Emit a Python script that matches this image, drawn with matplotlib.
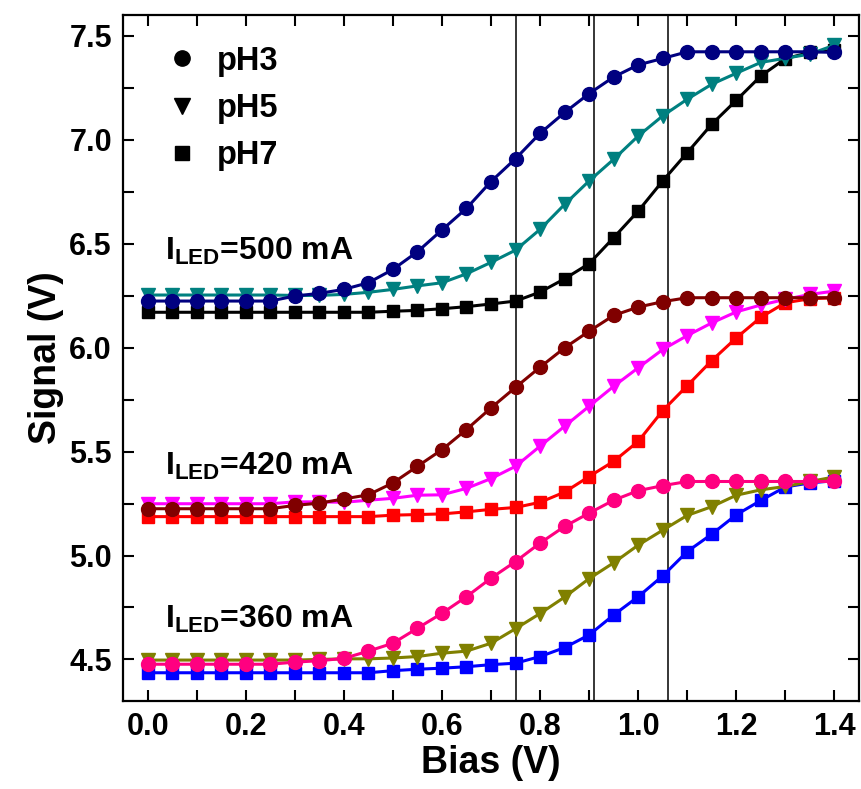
import matplotlib
matplotlib.use("Agg")
import matplotlib.pyplot as plt
from matplotlib.lines import Line2D
from matplotlib.ticker import MultipleLocator, FormatStrFormatter

plt.rcParams['font.family'] = ['Liberation Sans', 'DejaVu Sans']
plt.rcParams['font.weight'] = 'bold'
plt.rcParams['mathtext.fontset'] = 'custom'
plt.rcParams['mathtext.rm'] = 'Liberation Sans:bold'
plt.rcParams['mathtext.bf'] = 'Liberation Sans:bold'
plt.rcParams['mathtext.it'] = 'Liberation Sans:bold'

# Bias sweep (V)
bias = [0.00, 0.05, 0.10, 0.15, 0.20, 0.25, 0.30, 0.35, 0.40, 0.45,
        0.50, 0.55, 0.60, 0.65, 0.70, 0.75, 0.80, 0.85, 0.90, 0.95,
        1.00, 1.05, 1.10, 1.15, 1.20, 1.25, 1.30, 1.35, 1.40]

# I_LED = 500 mA
s500_ph3 = [6.224, 6.224, 6.224, 6.224, 6.224, 6.224, 6.248, 6.261, 6.280, 6.312,
            6.376, 6.461, 6.566, 6.670, 6.799, 6.909, 7.031, 7.131, 7.222, 7.302,
            7.360, 7.391, 7.423, 7.423, 7.423, 7.423, 7.423, 7.423, 7.420]
s500_ph5 = [6.253, 6.253, 6.253, 6.253, 6.253, 6.253, 6.251, 6.251, 6.256, 6.266,
            6.280, 6.297, 6.312, 6.355, 6.410, 6.469, 6.569, 6.689, 6.802, 6.906,
            7.018, 7.115, 7.195, 7.267, 7.320, 7.372, 7.392, 7.412, 7.455]
s500_ph7 = [6.170, 6.170, 6.170, 6.170, 6.170, 6.170, 6.170, 6.170, 6.170, 6.170,
            6.175, 6.179, 6.187, 6.197, 6.210, 6.224, 6.267, 6.331, 6.404, 6.529,
            6.657, 6.802, 6.938, 7.075, 7.190, 7.307, 7.390, 7.420, 7.430]

# I_LED = 420 mA
s420_ph3 = [5.225, 5.225, 5.225, 5.225, 5.225, 5.225, 5.241, 5.252, 5.272, 5.292,
            5.349, 5.429, 5.509, 5.606, 5.710, 5.809, 5.906, 5.999, 6.079, 6.155,
            6.195, 6.221, 6.240, 6.240, 6.240, 6.240, 6.240, 6.240, 6.240]
s420_ph5 = [5.249, 5.249, 5.249, 5.249, 5.249, 5.249, 5.258, 5.258, 5.256, 5.266,
            5.275, 5.290, 5.292, 5.323, 5.370, 5.429, 5.526, 5.622, 5.718, 5.814,
            5.903, 5.991, 6.058, 6.119, 6.172, 6.205, 6.232, 6.256, 6.272]
s420_ph7 = [5.187, 5.187, 5.187, 5.187, 5.187, 5.187, 5.187, 5.187, 5.187, 5.187,
            5.194, 5.197, 5.200, 5.210, 5.222, 5.231, 5.256, 5.305, 5.380, 5.453,
            5.549, 5.697, 5.817, 5.938, 6.047, 6.146, 6.216, 6.235, 6.240]

# I_LED = 360 mA
s360_ph3 = [4.477, 4.477, 4.477, 4.477, 4.477, 4.477, 4.487, 4.494, 4.505, 4.540,
            4.578, 4.650, 4.722, 4.802, 4.891, 4.971, 5.060, 5.140, 5.204, 5.266,
            5.312, 5.336, 5.356, 5.356, 5.356, 5.356, 5.356, 5.356, 5.356]
s360_ph5 = [4.497, 4.497, 4.497, 4.497, 4.497, 4.497, 4.497, 4.500, 4.503, 4.503,
            4.507, 4.514, 4.530, 4.540, 4.578, 4.648, 4.721, 4.800, 4.889, 4.965,
            5.050, 5.122, 5.193, 5.235, 5.290, 5.316, 5.332, 5.356, 5.378]
s360_ph7 = [4.436, 4.436, 4.436, 4.436, 4.436, 4.436, 4.436, 4.436, 4.436, 4.436,
            4.446, 4.453, 4.458, 4.465, 4.475, 4.482, 4.514, 4.557, 4.618, 4.714,
            4.802, 4.902, 5.019, 5.103, 5.196, 5.265, 5.330, 5.349, 5.360]

# Reference bias positions (V)
vlines = [0.75, 0.91, 1.06]

group_labels = ['500', '420', '360']
group_label_pos = [(0.035, 6.42), (0.035, 5.39), (0.035, 4.65)]

legend_labels = ['pH3', 'pH5', 'pH7']
markers = {'pH3': 'o', 'pH5': 'v', 'pH7': 's'}
msizes = {'pH3': 10, 'pH5': 10.5, 'pH7': 9}

series = [
    # (values, pH, colour)
    (s500_ph7, 'pH7', '#000000'),
    (s500_ph5, 'pH5', '#008080'),
    (s500_ph3, 'pH3', '#000080'),
    (s420_ph7, 'pH7', '#FF0000'),
    (s420_ph5, 'pH5', '#FF00FF'),
    (s420_ph3, 'pH3', '#800000'),
    (s360_ph7, 'pH7', '#0000FF'),
    (s360_ph5, 'pH5', '#808000'),
    (s360_ph3, 'pH3', '#FF0080'),
]

fig = plt.figure(figsize=(8.61, 7.89), dpi=100)
ax = fig.add_axes([0.1429, 0.1115, 0.8548, 0.8695])

for xv in vlines:
    ax.axvline(xv, color='black', lw=1.1, zorder=1)

for vals, ph, col in series:
    ax.plot(bias, vals, color=col, lw=2.2, marker=markers[ph],
            ms=msizes[ph], mec=col, mfc=col, zorder=3)

for lbl, (tx, ty) in zip(group_labels, group_label_pos):
    ax.text(tx, ty, r'$\mathbf{I}_{\mathbf{LED}}$=' + lbl + ' mA',
            fontsize=23, fontweight='bold', ha='left', va='baseline')

ax.set_xlim(-0.05, 1.45)
ax.set_ylim(4.3, 7.6)
ax.xaxis.set_major_locator(MultipleLocator(0.2))
ax.xaxis.set_minor_locator(MultipleLocator(0.1))
ax.yaxis.set_major_locator(MultipleLocator(0.5))
ax.yaxis.set_minor_locator(MultipleLocator(0.25))
ax.xaxis.set_major_formatter(FormatStrFormatter('%.1f'))
ax.yaxis.set_major_formatter(FormatStrFormatter('%.1f'))

ax.tick_params(which='both', direction='in', top=True, right=True,
               length=8, width=1.5, labelsize=22, pad=8)
for sp in ax.spines.values():
    sp.set_linewidth(1.6)

ax.set_xlabel('Bias (V)', fontsize=27, fontweight='bold', labelpad=2)
ax.set_ylabel('Signal (V)', fontsize=27, fontweight='bold', labelpad=4)

handles = [Line2D([], [], color='black', ls='none', marker=markers[p],
                  ms=msizes[p] + 1) for p in legend_labels]
ax.legend(handles, legend_labels, loc='upper left', frameon=False,
          handlelength=1.0, handletextpad=0.57,
          labelspacing=0.5, bbox_to_anchor=(0.018, 0.998),
          prop={'weight': 'bold', 'size': 23.5})

fig.savefig('out.png', dpi=100)
